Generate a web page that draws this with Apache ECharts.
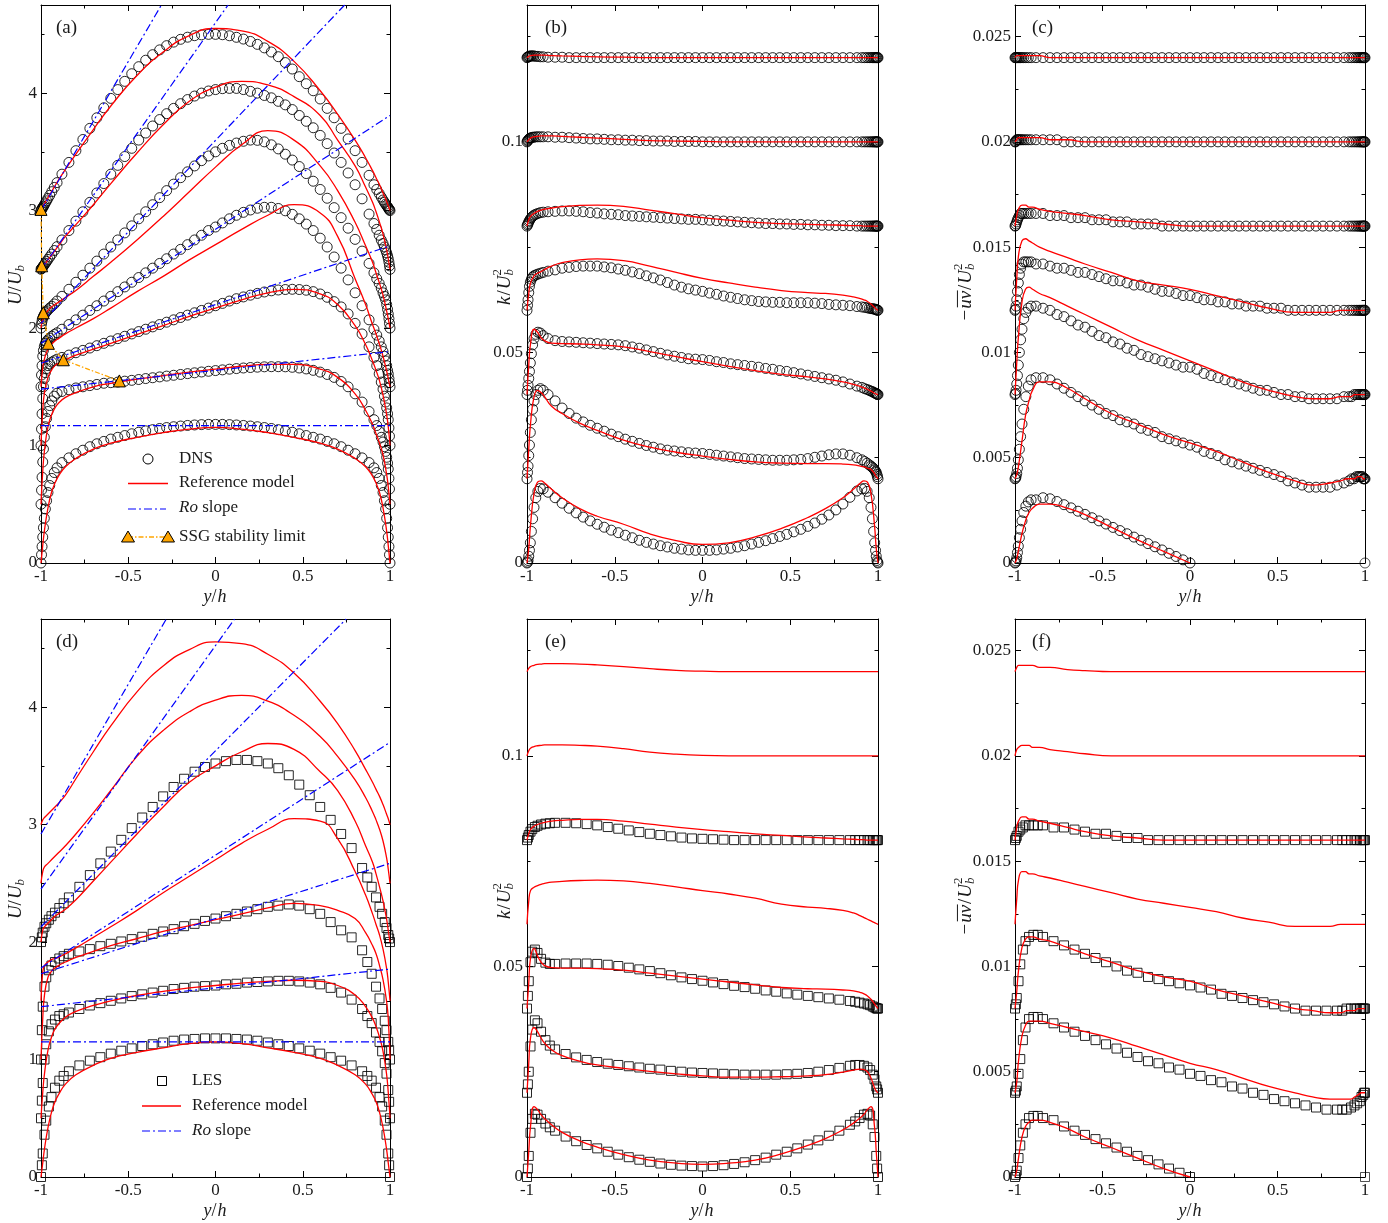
<!DOCTYPE html>
<html><head><meta charset="utf-8">
<script src="https://cdn.jsdelivr.net/npm/echarts@6/dist/echarts.min.js"></script>
<style>html,body{margin:0;padding:0;background:#fff;}#c{width:1388px;height:1223px;}</style>
</head><body><div id="c"></div>
<script>
// ---------- positions (y/h) ----------
// DNS sample positions
const GD = [-1, -0.997, -0.994, -0.99, -0.986, -0.981, -0.975, -0.968, -0.96, -0.95, -0.938, -0.924, -0.908,
 -0.88, -0.84, -0.8, -0.76, -0.72, -0.68, -0.64, -0.6, -0.56, -0.52, -0.48,
 -0.44, -0.4, -0.36, -0.32, -0.28, -0.24, -0.2, -0.16, -0.12, -0.08, -0.04,
 0, 0.04, 0.08, 0.12, 0.16, 0.2, 0.24, 0.28, 0.32, 0.36, 0.4, 0.44,
 0.48, 0.52, 0.56, 0.6, 0.64, 0.68, 0.72, 0.76, 0.8, 0.84, 0.88,
 0.908, 0.924, 0.938, 0.95, 0.96, 0.968, 0.975, 0.981, 0.986, 0.99, 0.994, 0.997, 1];
// LES sample positions
const G = [-1, -0.995, -0.99, -0.98, -0.97, -0.955, -0.94, -0.92, -0.895, -0.87, -0.84, -0.78,
 -0.72, -0.66, -0.6, -0.54, -0.48, -0.42, -0.36, -0.3, -0.24, -0.18, -0.12, -0.06,
 0, 0.06, 0.12, 0.18, 0.24, 0.3, 0.36, 0.42, 0.48, 0.54, 0.6, 0.66, 0.72,
 0.78, 0.84, 0.87, 0.895, 0.92, 0.94, 0.955, 0.97, 0.98, 0.99, 0.995, 1];
// model sample positions
const M = [-1, -0.99, -0.98, -0.96, -0.94, -0.92, -0.9, -0.86,
 -0.8, -0.7, -0.6, -0.45, -0.3, -0.15,
 0, 0.15, 0.3, 0.45, 0.6,
 0.7, 0.8, 0.86, 0.9, 0.92, 0.94, 0.96, 0.98, 0.99, 1];

// ---------- tick values ----------
const uTicks = [0, 1, 2, 3, 4], uMinor = [0.5, 1.5, 2.5, 3.5, 4.5];
const kTicks = [0, 0.05, 0.1], kMinor = [0.025, 0.075, 0.125];
const uvTicks = [0, 0.005, 0.01, 0.015, 0.02, 0.025], uvMinor = [0.0025, 0.0075, 0.0125, 0.0175, 0.0225];

// ---------- (a) U/Ub, DNS ----------
const aDns0 = [0, 0.07, 0.14, 0.22, 0.3, 0.38, 0.46, 0.53, 0.6, 0.66, 0.72, 0.77, 0.81,
 0.855, 0.895, 0.93, 0.96, 0.99, 1.015, 1.035, 1.055, 1.07, 1.085, 1.1,
 1.113, 1.125, 1.135, 1.145, 1.153, 1.16, 1.166, 1.171, 1.175, 1.178, 1.18,
 1.18, 1.18, 1.178, 1.175, 1.171, 1.166, 1.16, 1.153, 1.145, 1.135, 1.125, 1.113,
 1.1, 1.085, 1.07, 1.055, 1.035, 1.015, 0.99, 0.96, 0.93, 0.895, 0.855,
 0.81, 0.77, 0.72, 0.66, 0.6, 0.53, 0.46, 0.38, 0.3, 0.22, 0.14, 0.07, 0];
const aDns1 = [0.5, 0.62, 0.73, 0.86, 0.97, 1.07, 1.16, 1.23, 1.29, 1.34, 1.38, 1.42, 1.445,
 1.46, 1.475, 1.49, 1.5, 1.51, 1.52, 1.53, 1.535, 1.54, 1.548, 1.555,
 1.562, 1.57, 1.577, 1.584, 1.591, 1.598, 1.605, 1.612, 1.619, 1.626, 1.632,
 1.638, 1.644, 1.65, 1.655, 1.66, 1.664, 1.667, 1.67, 1.671, 1.671, 1.67, 1.666,
 1.66, 1.652, 1.64, 1.625, 1.605, 1.58, 1.545, 1.5, 1.44, 1.37, 1.29,
 1.22, 1.17, 1.12, 1.07, 1.03, 0.99, 0.95, 0.9, 0.85, 0.8, 0.72, 0.63, 0.5];
const aDns2 = [1.0, 1.14, 1.27, 1.4, 1.5, 1.57, 1.62, 1.655, 1.68, 1.695, 1.71, 1.722, 1.735,
 1.75, 1.77, 1.79, 1.81, 1.83, 1.85, 1.87, 1.89, 1.91, 1.93, 1.95,
 1.97, 1.99, 2.01, 2.03, 2.05, 2.07, 2.09, 2.11, 2.13, 2.15, 2.17,
 2.19, 2.21, 2.23, 2.25, 2.265, 2.28, 2.295, 2.307, 2.317, 2.324, 2.328, 2.33,
 2.328, 2.322, 2.31, 2.29, 2.262, 2.225, 2.18, 2.12, 2.04, 1.95, 1.84,
 1.75, 1.68, 1.61, 1.54, 1.48, 1.42, 1.37, 1.32, 1.27, 1.22, 1.15, 1.08, 1.0];
const aDns3 = [1.5, 1.6, 1.68, 1.76, 1.81, 1.845, 1.87, 1.885, 1.9, 1.915, 1.93, 1.945, 1.96,
 1.99, 2.03, 2.07, 2.11, 2.15, 2.19, 2.23, 2.27, 2.31, 2.35, 2.39,
 2.43, 2.47, 2.51, 2.55, 2.59, 2.63, 2.67, 2.71, 2.75, 2.79, 2.83,
 2.86, 2.895, 2.93, 2.96, 2.985, 3.005, 3.02, 3.028, 3.028, 3.018, 2.998, 2.968,
 2.93, 2.885, 2.83, 2.765, 2.69, 2.605, 2.51, 2.41, 2.3, 2.19, 2.07,
 1.99, 1.94, 1.89, 1.84, 1.8, 1.76, 1.72, 1.68, 1.64, 1.61, 1.57, 1.535, 1.5];
const aDns4 = [2.0, 2.035, 2.06, 2.085, 2.1, 2.115, 2.13, 2.14, 2.155, 2.17, 2.185, 2.205, 2.23,
 2.27, 2.33, 2.39, 2.45, 2.51, 2.57, 2.63, 2.69, 2.75, 2.81, 2.87,
 2.93, 2.99, 3.05, 3.11, 3.17, 3.225, 3.28, 3.33, 3.38, 3.425, 3.465,
 3.5, 3.53, 3.555, 3.575, 3.59, 3.6, 3.598, 3.585, 3.56, 3.525, 3.48, 3.43,
 3.375, 3.315, 3.25, 3.18, 3.105, 3.025, 2.94, 2.85, 2.755, 2.655, 2.55,
 2.47, 2.42, 2.38, 2.34, 2.3, 2.27, 2.24, 2.2, 2.16, 2.12, 2.08, 2.04, 2.0];
const aDns5 = [2.5, 2.506, 2.512, 2.52, 2.529, 2.54, 2.552, 2.567, 2.584, 2.605, 2.63, 2.66, 2.693,
 2.75, 2.83, 2.91, 2.99, 3.07, 3.15, 3.23, 3.31, 3.385, 3.46, 3.53,
 3.6, 3.66, 3.72, 3.775, 3.825, 3.87, 3.91, 3.945, 3.975, 4.0, 4.018,
 4.03, 4.038, 4.04, 4.04, 4.03, 4.015, 4.0, 3.98, 3.96, 3.93, 3.9, 3.86,
 3.81, 3.76, 3.705, 3.64, 3.57, 3.49, 3.41, 3.32, 3.22, 3.1, 2.97,
 2.89, 2.84, 2.79, 2.75, 2.72, 2.69, 2.665, 2.64, 2.615, 2.59, 2.56, 2.53, 2.5];
const aDns6 = [3.0, 3.008, 3.016, 3.026, 3.036, 3.049, 3.065, 3.083, 3.104, 3.13, 3.161, 3.197, 3.238,
 3.31, 3.41, 3.51, 3.605, 3.7, 3.79, 3.875, 3.955, 4.03, 4.1, 4.165,
 4.225, 4.28, 4.327, 4.368, 4.404, 4.434, 4.458, 4.476, 4.489, 4.496, 4.5,
 4.5, 4.497, 4.488, 4.475, 4.46, 4.44, 4.415, 4.385, 4.35, 4.31, 4.26, 4.205,
 4.14, 4.08, 4.02, 3.95, 3.87, 3.79, 3.7, 3.61, 3.51, 3.41, 3.3,
 3.22, 3.18, 3.145, 3.115, 3.09, 3.07, 3.055, 3.042, 3.032, 3.023, 3.014, 3.007, 3.0];
// (a) reference model
const aMod0 = [0, 0.15, 0.28, 0.47, 0.6, 0.68, 0.74, 0.82, 0.89, 0.97, 1.02, 1.07, 1.11, 1.14,
 1.155, 1.14, 1.11, 1.07, 1.02, 0.97, 0.89, 0.82, 0.74, 0.68, 0.6, 0.47, 0.28, 0.15, 0];
const aMod1 = [0.5, 0.78, 0.96, 1.16, 1.26, 1.32, 1.36, 1.41, 1.45, 1.5, 1.53, 1.565, 1.595, 1.625,
 1.65, 1.675, 1.69, 1.69, 1.65, 1.58, 1.44, 1.3, 1.18, 1.1, 1.02, 0.92, 0.76, 0.65, 0.5];
const aMod2 = [1.0, 1.3, 1.45, 1.58, 1.64, 1.68, 1.7, 1.73, 1.77, 1.82, 1.87, 1.945, 2.02, 2.1,
 2.17, 2.24, 2.3, 2.33, 2.29, 2.2, 2.02, 1.86, 1.72, 1.64, 1.55, 1.43, 1.27, 1.16, 1.0];
const aMod3 = [1.5, 1.66, 1.74, 1.82, 1.86, 1.89, 1.91, 1.95, 2.0, 2.08, 2.17, 2.31, 2.44, 2.58,
 2.71, 2.84, 2.96, 3.05, 2.98, 2.78, 2.42, 2.2, 2.03, 1.95, 1.86, 1.76, 1.64, 1.57, 1.5];
const aMod4 = [2.0, 2.08, 2.11, 2.15, 2.18, 2.2, 2.22, 2.26, 2.32, 2.44, 2.56, 2.75, 2.95, 3.16,
 3.37, 3.56, 3.68, 3.6, 3.38, 3.17, 2.9, 2.7, 2.56, 2.47, 2.38, 2.28, 2.15, 2.08, 2.0];
const aMod5 = [2.5, 2.52, 2.54, 2.58, 2.62, 2.66, 2.7, 2.78, 2.88, 3.05, 3.23, 3.49, 3.73, 3.93,
 4.05, 4.1, 4.07, 3.97, 3.81, 3.6, 3.38, 3.2, 3.07, 2.99, 2.9, 2.8, 2.67, 2.59, 2.5];
const aMod6 = [3.0, 3.03, 3.06, 3.11, 3.16, 3.21, 3.26, 3.35, 3.48, 3.69, 3.89, 4.15, 4.35, 4.49,
 4.55, 4.53, 4.44, 4.27, 4.02, 3.82, 3.6, 3.45, 3.34, 3.28, 3.22, 3.15, 3.08, 3.04, 3.0];
// (a) Ro slope lines [y/h, U/Ub]
const aRo0 = [[-1, 1.17], [1, 1.17]];
const aRo1 = [[-1, 1.48], [1, 1.80]];
const aRo2 = [[-1, 1.70], [1, 2.70]];
const aRo3 = [[-1, 1.87], [1, 3.81]];
const aRo4 = [[-1, 2.04], [0.74, 4.75]];
const aRo5 = [[-1, 2.5], [0.072, 4.75]];
const aRo6 = [[-1, 3.0], [-0.31, 4.75]];
// SSG stability limit
const ssgPos = [-0.551, -0.872, -0.958, -0.987, -0.996, -1.0];
const ssgU = [1.55, 1.73, 1.87, 2.13, 2.53, 3.01];

// ---------- (b) k/Ub^2, DNS ----------
const bDns0 = [0, 0.0002, 0.0006, 0.0016, 0.003, 0.0048, 0.0075, 0.0105, 0.0132, 0.0155, 0.017, 0.0177, 0.0176,
 0.0168, 0.0155, 0.0142, 0.013, 0.0119, 0.0109, 0.01, 0.0092, 0.0085, 0.0078, 0.0072,
 0.0066, 0.006, 0.0054, 0.0049, 0.0045, 0.0041, 0.0038, 0.0035, 0.0033, 0.0031, 0.003,
 0.003, 0.003, 0.0031, 0.0033, 0.0035, 0.0038, 0.0041, 0.0045, 0.0049, 0.0053, 0.0058, 0.0063,
 0.0068, 0.0074, 0.008, 0.0087, 0.0095, 0.0104, 0.0114, 0.0126, 0.014, 0.0156, 0.0171,
 0.0176, 0.0177, 0.017, 0.0155, 0.0132, 0.0105, 0.0075, 0.0048, 0.003, 0.0016, 0.0006, 0.0002, 0];
const bDns1 = [0.02, 0.0215, 0.023, 0.0255, 0.028, 0.031, 0.034, 0.0365, 0.0385, 0.04, 0.041, 0.0414, 0.041,
 0.04, 0.0385, 0.0368, 0.0355, 0.0344, 0.0335, 0.0327, 0.032, 0.0313, 0.0306, 0.03,
 0.0294, 0.0289, 0.0284, 0.0279, 0.0275, 0.0271, 0.0268, 0.0266, 0.0264, 0.0262, 0.0261,
 0.026, 0.0258, 0.0256, 0.0254, 0.0252, 0.025, 0.0248, 0.0247, 0.0246, 0.0245, 0.0244, 0.0244,
 0.0244, 0.0245, 0.0246, 0.0248, 0.0251, 0.0254, 0.0257, 0.0259, 0.0259, 0.0256, 0.025,
 0.0245, 0.0241, 0.0237, 0.0233, 0.023, 0.0227, 0.0224, 0.0221, 0.0218, 0.0215, 0.021, 0.0205, 0.02];
const bDns2 = [0.04, 0.041, 0.0422, 0.0438, 0.0455, 0.0475, 0.0497, 0.0518, 0.0533, 0.0543, 0.0548, 0.0546, 0.054,
 0.0533, 0.0528, 0.0526, 0.0525, 0.0524, 0.0523, 0.0522, 0.0521, 0.052, 0.0519, 0.0518,
 0.0516, 0.0513, 0.051, 0.0506, 0.0502, 0.0498, 0.0494, 0.0491, 0.0488, 0.0485, 0.0484,
 0.0483, 0.0481, 0.0478, 0.0476, 0.0473, 0.0471, 0.0469, 0.0467, 0.0465, 0.0462, 0.046, 0.0457,
 0.0455, 0.0452, 0.0449, 0.0446, 0.0443, 0.044, 0.0437, 0.0434, 0.043, 0.0425, 0.042,
 0.0417, 0.0414, 0.0412, 0.041, 0.0408, 0.0407, 0.0405, 0.0404, 0.0403, 0.0402, 0.0401, 0.04, 0.04];
const bDns3 = [0.06, 0.0612, 0.0625, 0.0642, 0.0657, 0.0667, 0.0674, 0.0679, 0.0682, 0.0684, 0.0686, 0.0688, 0.069,
 0.0693, 0.0696, 0.07, 0.0702, 0.0704, 0.0705, 0.0705, 0.0705, 0.0703, 0.0701, 0.0698,
 0.0695, 0.0691, 0.0687, 0.0682, 0.0677, 0.0672, 0.0666, 0.066, 0.0655, 0.0651, 0.0648,
 0.0645, 0.0641, 0.0638, 0.0634, 0.0631, 0.0628, 0.0625, 0.0623, 0.0621, 0.062, 0.0619, 0.0619,
 0.0618, 0.0618, 0.0618, 0.0618, 0.0617, 0.0616, 0.0614, 0.0613, 0.0612, 0.0611, 0.0609,
 0.0608, 0.0607, 0.0606, 0.0605, 0.0604, 0.0604, 0.0603, 0.0603, 0.0602, 0.0602, 0.0601, 0.06, 0.06];
const bDns4 = [0.08, 0.0803, 0.0806, 0.081, 0.0813, 0.0817, 0.082, 0.0823, 0.0826, 0.0828, 0.083, 0.0832, 0.0833,
 0.0834, 0.0835, 0.0836, 0.0836, 0.0835, 0.0834, 0.0832, 0.0831, 0.0829, 0.0828, 0.0827,
 0.0825, 0.0824, 0.0823, 0.0822, 0.0821, 0.082, 0.0819, 0.0818, 0.0817, 0.0816, 0.0816,
 0.0815, 0.0814, 0.0813, 0.0812, 0.0811, 0.081, 0.0809, 0.0808, 0.0807, 0.0806, 0.0806, 0.0805,
 0.0805, 0.0804, 0.0804, 0.0803, 0.0803, 0.0802, 0.0802, 0.0801, 0.0801, 0.0801, 0.08,
 0.08, 0.08, 0.08, 0.08, 0.08, 0.08, 0.08, 0.08, 0.08, 0.08, 0.08, 0.08, 0.08];
const bDns5 = [0.1, 0.1002, 0.1004, 0.1006, 0.1008, 0.1009, 0.101, 0.1011, 0.1011, 0.1012, 0.1012, 0.1012, 0.1012,
 0.1012, 0.1011, 0.1011, 0.101, 0.1009, 0.1008, 0.1007, 0.1007, 0.1006, 0.1005, 0.1005,
 0.1004, 0.1004, 0.1003, 0.1003, 0.1002, 0.1002, 0.1002, 0.1001, 0.1001, 0.1001, 0.1001,
 0.1, 0.1, 0.1, 0.1, 0.1, 0.1, 0.1, 0.1, 0.1, 0.1, 0.1, 0.1,
 0.1, 0.1, 0.1, 0.1, 0.1, 0.1, 0.1, 0.1, 0.1, 0.1, 0.1,
 0.1, 0.1, 0.1, 0.1, 0.1, 0.1, 0.1, 0.1, 0.1, 0.1, 0.1, 0.1, 0.1];
const bDns6 = [0.12, 0.1201, 0.1202, 0.1203, 0.1203, 0.1204, 0.1204, 0.1204, 0.1204, 0.1203, 0.1203, 0.1202, 0.1202,
 0.1201, 0.1201, 0.1201, 0.12, 0.12, 0.12, 0.12, 0.12, 0.12, 0.12, 0.12,
 0.12, 0.12, 0.12, 0.12, 0.12, 0.12, 0.12, 0.12, 0.12, 0.12, 0.12,
 0.12, 0.12, 0.12, 0.12, 0.12, 0.12, 0.12, 0.12, 0.12, 0.12, 0.12, 0.12,
 0.12, 0.12, 0.12, 0.12, 0.12, 0.12, 0.12, 0.12, 0.12, 0.12, 0.12,
 0.12, 0.12, 0.12, 0.12, 0.12, 0.12, 0.12, 0.12, 0.12, 0.12, 0.12, 0.12, 0.12];
const bMod0 = [0, 0.0035, 0.009, 0.0165, 0.0192, 0.0195, 0.019, 0.0175, 0.0155, 0.0129, 0.0111, 0.0092, 0.0069, 0.0053,
 0.0044, 0.0048, 0.0062, 0.0082, 0.0108, 0.0129, 0.0155, 0.0175, 0.019, 0.0195, 0.0192, 0.0165, 0.009, 0.0035, 0];
const bMod1 = [0.02, 0.027, 0.033, 0.0395, 0.041, 0.0405, 0.0395, 0.0372, 0.0355, 0.0332, 0.0315, 0.0292, 0.0275, 0.0263,
 0.0254, 0.0246, 0.024, 0.0237, 0.0236, 0.0236, 0.0235, 0.0233, 0.023, 0.0228, 0.0225, 0.0222, 0.0212, 0.0205, 0.02];
const bMod2 = [0.04, 0.047, 0.052, 0.0555, 0.0548, 0.0535, 0.0528, 0.0522, 0.0521, 0.052, 0.0518, 0.0513, 0.0502, 0.049,
 0.0478, 0.0467, 0.0457, 0.0448, 0.0442, 0.0437, 0.043, 0.0424, 0.0419, 0.0416, 0.0412, 0.0408, 0.0403, 0.0401, 0.04];
const bMod3 = [0.06, 0.064, 0.0665, 0.0682, 0.0688, 0.0692, 0.0697, 0.0705, 0.0713, 0.072, 0.0722, 0.0718, 0.0705, 0.069,
 0.0676, 0.0665, 0.0655, 0.0647, 0.0642, 0.064, 0.0636, 0.0632, 0.0628, 0.0625, 0.0621, 0.0615, 0.0607, 0.0603, 0.06];
const bMod4 = [0.08, 0.0815, 0.0823, 0.083, 0.0835, 0.0838, 0.084, 0.0843, 0.0846, 0.0849, 0.085, 0.0847, 0.0838, 0.0829,
 0.082, 0.0814, 0.0809, 0.0806, 0.0804, 0.0803, 0.0802, 0.0801, 0.0801, 0.08, 0.08, 0.08, 0.08, 0.08, 0.08];
const bMod5 = [0.1, 0.1005, 0.1009, 0.1012, 0.1013, 0.1014, 0.1014, 0.1014, 0.1013, 0.1011, 0.1009, 0.1006, 0.1003, 0.1002,
 0.1001, 0.1, 0.1, 0.1, 0.1, 0.1, 0.1, 0.1, 0.1, 0.1, 0.1, 0.1, 0.1, 0.1, 0.1];
const bMod6 = [0.12, 0.1203, 0.1205, 0.1206, 0.1206, 0.1206, 0.1206, 0.1205, 0.1204, 0.1203, 0.1202, 0.1201, 0.12, 0.12,
 0.12, 0.12, 0.12, 0.12, 0.12, 0.12, 0.12, 0.12, 0.12, 0.12, 0.12, 0.12, 0.12, 0.12, 0.12];

// ---------- (c) -uv/Ub^2, DNS ----------
const cDns0 = [0, 0.00003, 0.0001, 0.00025, 0.0005, 0.0008, 0.0012, 0.0016, 0.002, 0.0024, 0.0027, 0.0029, 0.003,
 0.003, 0.0031, 0.00305, 0.00292, 0.00277, 0.00262, 0.00246, 0.00231, 0.00215, 0.002, 0.00185,
 0.00169, 0.00154, 0.00139, 0.00123, 0.00108, 0.00092, 0.00077, 0.00062, 0.00046, 0.00031, 0.00015,
 0];
const cDns1 = [0.004, 0.00403, 0.0041, 0.00425, 0.0045, 0.0049, 0.0054, 0.006, 0.0066, 0.0073, 0.0079, 0.0084, 0.0087,
 0.0088, 0.0088, 0.0087, 0.0085, 0.0083, 0.0081, 0.0079, 0.0077, 0.0075, 0.0073, 0.0071,
 0.007, 0.0068, 0.0067, 0.0066, 0.0064, 0.0063, 0.0062, 0.006, 0.0059, 0.0058, 0.0057,
 0.0056, 0.0055, 0.0053, 0.0052, 0.0051, 0.0049, 0.0048, 0.0047, 0.0046, 0.0045, 0.0044, 0.0043,
 0.0042, 0.0041, 0.0039, 0.0038, 0.0037, 0.0036, 0.0036, 0.0036, 0.0036, 0.0037, 0.0038,
 0.0039, 0.004, 0.004, 0.0041, 0.0041, 0.0041, 0.0041, 0.0041, 0.0041, 0.004, 0.004, 0.004, 0.004];
const cDns2 = [0.008, 0.00805, 0.0082, 0.0085, 0.0089, 0.0094, 0.01, 0.0106, 0.0111, 0.0116, 0.0119, 0.0121, 0.0122,
 0.0122, 0.0121, 0.012, 0.0118, 0.0117, 0.0115, 0.0113, 0.0112, 0.011, 0.0108, 0.0107,
 0.0105, 0.0104, 0.0102, 0.0101, 0.0099, 0.0098, 0.0097, 0.0096, 0.0095, 0.0094, 0.0093,
 0.0093, 0.0092, 0.009, 0.0089, 0.0088, 0.0087, 0.0086, 0.0085, 0.0084, 0.0083, 0.0082, 0.0082,
 0.0081, 0.008, 0.008, 0.0079, 0.0079, 0.0078, 0.0078, 0.0078, 0.0078, 0.0078, 0.0079,
 0.0079, 0.0079, 0.008, 0.008, 0.008, 0.008, 0.008, 0.008, 0.008, 0.008, 0.008, 0.008, 0.008];
const cDns3 = [0.012, 0.01205, 0.0122, 0.0125, 0.0129, 0.0133, 0.0137, 0.014, 0.0142, 0.0143, 0.0143, 0.0143, 0.0143,
 0.0142, 0.0142, 0.0141, 0.014, 0.014, 0.0139, 0.0138, 0.0138, 0.0137, 0.0136, 0.0135,
 0.0134, 0.0134, 0.0133, 0.0132, 0.0132, 0.0131, 0.013, 0.0129, 0.0129, 0.0128, 0.0127,
 0.0127, 0.0126, 0.0125, 0.0125, 0.0124, 0.0124, 0.0123, 0.0123, 0.0122, 0.0122, 0.0122, 0.0121,
 0.0121, 0.0121, 0.012, 0.012, 0.012, 0.012, 0.012, 0.012, 0.012, 0.012, 0.012,
 0.012, 0.012, 0.012, 0.012, 0.012, 0.012, 0.012, 0.012, 0.012, 0.012, 0.012, 0.012, 0.012];
const cDns4 = [0.016, 0.01602, 0.0161, 0.0162, 0.0163, 0.0164, 0.0165, 0.0166, 0.0166, 0.0166, 0.0166, 0.0166, 0.0166,
 0.0166, 0.0166, 0.0165, 0.0165, 0.0165, 0.0164, 0.0164, 0.0164, 0.0163, 0.0163, 0.0163,
 0.0162, 0.0162, 0.0162, 0.0161, 0.0161, 0.0161, 0.0161, 0.016, 0.016, 0.016, 0.016,
 0.016, 0.016, 0.016, 0.016, 0.016, 0.016, 0.016, 0.016, 0.016, 0.016, 0.016, 0.016,
 0.016, 0.016, 0.016, 0.016, 0.016, 0.016, 0.016, 0.016, 0.016, 0.016, 0.016,
 0.016, 0.016, 0.016, 0.016, 0.016, 0.016, 0.016, 0.016, 0.016, 0.016, 0.016, 0.016, 0.016];
const cDns5 = [0.02, 0.02, 0.02005, 0.0201, 0.0201, 0.0201, 0.0201, 0.0201, 0.0201, 0.0201, 0.0201, 0.0201, 0.0201,
 0.0201, 0.0201, 0.0201, 0.0201, 0.02, 0.02, 0.02, 0.02, 0.02, 0.02, 0.02,
 0.02, 0.02, 0.02, 0.02, 0.02, 0.02, 0.02, 0.02, 0.02, 0.02, 0.02,
 0.02, 0.02, 0.02, 0.02, 0.02, 0.02, 0.02, 0.02, 0.02, 0.02, 0.02, 0.02,
 0.02, 0.02, 0.02, 0.02, 0.02, 0.02, 0.02, 0.02, 0.02, 0.02, 0.02,
 0.02, 0.02, 0.02, 0.02, 0.02, 0.02, 0.02, 0.02, 0.02, 0.02, 0.02, 0.02, 0.02];
const cDns6 = [0.024, 0.024, 0.024, 0.024, 0.024, 0.024, 0.024, 0.024, 0.024, 0.024, 0.024, 0.024, 0.024,
 0.024, 0.024, 0.024, 0.024, 0.024, 0.024, 0.024, 0.024, 0.024, 0.024, 0.024,
 0.024, 0.024, 0.024, 0.024, 0.024, 0.024, 0.024, 0.024, 0.024, 0.024, 0.024,
 0.024, 0.024, 0.024, 0.024, 0.024, 0.024, 0.024, 0.024, 0.024, 0.024, 0.024, 0.024,
 0.024, 0.024, 0.024, 0.024, 0.024, 0.024, 0.024, 0.024, 0.024, 0.024, 0.024,
 0.024, 0.024, 0.024, 0.024, 0.024, 0.024, 0.024, 0.024, 0.024, 0.024, 0.024, 0.024, 0.024];
const cWall = [[1, 0]];
const cMod0 = [0, 0.0002, 0.0006, 0.0014, 0.002, 0.0024, 0.0026, 0.0028, 0.0028, 0.0026, 0.0023, 0.0017, 0.0011, 0.00055, 0];
const cMod1 = [0.004, 0.0042, 0.0046, 0.0058, 0.007, 0.0077, 0.0082, 0.0086, 0.0086, 0.0083, 0.0078, 0.0071, 0.0066, 0.0061,
 0.0057, 0.0053, 0.0048, 0.0043, 0.0039, 0.0037, 0.0038, 0.0039, 0.004, 0.004, 0.004, 0.0041, 0.0041, 0.004, 0.004];
const cMod2 = [0.008, 0.0095, 0.0108, 0.0124, 0.013, 0.0131, 0.013, 0.0128, 0.0126, 0.0122, 0.0118, 0.0112, 0.0106, 0.0101,
 0.0096, 0.0091, 0.0086, 0.0082, 0.0079, 0.0078, 0.0078, 0.0079, 0.0079, 0.0079, 0.008, 0.008, 0.008, 0.008, 0.008];
const cMod3 = [0.012, 0.0135, 0.0146, 0.0153, 0.0154, 0.0153, 0.0152, 0.015, 0.0148, 0.0145, 0.0142, 0.0138, 0.0134, 0.0132,
 0.013, 0.0127, 0.0124, 0.0121, 0.0119, 0.0119, 0.0119, 0.012, 0.012, 0.012, 0.012, 0.012, 0.012, 0.012, 0.012];
const cMod4 = [0.016, 0.0165, 0.0168, 0.017, 0.017, 0.0169, 0.0169, 0.0168, 0.0167, 0.0166, 0.0165, 0.0163, 0.0162, 0.0161,
 0.016, 0.016, 0.016, 0.016, 0.016, 0.016, 0.016, 0.016, 0.016, 0.016, 0.016, 0.016, 0.016, 0.016, 0.016];
const cMod5 = [0.02, 0.0201, 0.0202, 0.0202, 0.0202, 0.0202, 0.0202, 0.0202, 0.0201, 0.0201, 0.02, 0.02, 0.02, 0.02,
 0.02, 0.02, 0.02, 0.02, 0.02, 0.02, 0.02, 0.02, 0.02, 0.02, 0.02, 0.02, 0.02, 0.02, 0.02];
const cMod6 = [0.024, 0.0241, 0.0241, 0.0241, 0.0241, 0.0241, 0.0241, 0.0241, 0.024, 0.024, 0.024, 0.024, 0.024, 0.024,
 0.024, 0.024, 0.024, 0.024, 0.024, 0.024, 0.024, 0.024, 0.024, 0.024, 0.024, 0.024, 0.024, 0.024, 0.024];

// ---------- (d) U/Ub, LES ----------
const dLes0 = [0, 0.1, 0.2, 0.36, 0.48, 0.6, 0.68, 0.76, 0.82, 0.86, 0.9, 0.95,
 0.99, 1.02, 1.05, 1.075, 1.095, 1.115, 1.13, 1.145, 1.16, 1.17, 1.175, 1.18,
 1.18, 1.18, 1.175, 1.17, 1.16, 1.145, 1.13, 1.115, 1.095, 1.075, 1.05, 1.02, 0.99,
 0.95, 0.9, 0.86, 0.82, 0.76, 0.68, 0.6, 0.48, 0.36, 0.2, 0.1, 0];
const dLes1 = [0.5, 0.65, 0.8, 1.0, 1.13, 1.24, 1.3, 1.34, 1.37, 1.385, 1.4, 1.43,
 1.46, 1.48, 1.5, 1.52, 1.54, 1.555, 1.57, 1.585, 1.6, 1.61, 1.62, 1.625,
 1.63, 1.64, 1.645, 1.655, 1.66, 1.665, 1.67, 1.67, 1.665, 1.655, 1.64, 1.61, 1.57,
 1.51, 1.43, 1.37, 1.31, 1.23, 1.15, 1.07, 0.97, 0.88, 0.74, 0.64, 0.5];
const dLes2 = [1.0, 1.25, 1.45, 1.62, 1.7, 1.76, 1.8, 1.83, 1.86, 1.88, 1.9, 1.92,
 1.94, 1.965, 1.985, 2.005, 2.025, 2.045, 2.07, 2.09, 2.11, 2.135, 2.155, 2.18,
 2.2, 2.22, 2.24, 2.26, 2.28, 2.3, 2.31, 2.32, 2.31, 2.28, 2.24, 2.17, 2.1,
 2.04, 1.93, 1.83, 1.73, 1.62, 1.52, 1.43, 1.33, 1.25, 1.15, 1.08, 1.0];
const dLes3 = [2.0, 2.04, 2.08, 2.13, 2.16, 2.19, 2.22, 2.25, 2.29, 2.33, 2.38, 2.47,
 2.57, 2.67, 2.77, 2.87, 2.97, 3.06, 3.15, 3.24, 3.32, 3.39, 3.45, 3.49,
 3.52, 3.54, 3.55, 3.55, 3.54, 3.52, 3.48, 3.42, 3.34, 3.25, 3.15, 3.04, 2.92,
 2.8, 2.63, 2.55, 2.47, 2.38, 2.3, 2.24, 2.17, 2.12, 2.06, 2.03, 2.0];
const dMod0 = [0, 0.12, 0.24, 0.42, 0.55, 0.64, 0.7, 0.79, 0.87, 0.95, 1.01, 1.06, 1.1, 1.135,
 1.15, 1.135, 1.1, 1.06, 1.01, 0.95, 0.87, 0.79, 0.7, 0.64, 0.55, 0.42, 0.24, 0.12, 0];
const dMod1 = [0.5, 0.72, 0.88, 1.08, 1.19, 1.26, 1.3, 1.36, 1.41, 1.46, 1.5, 1.545, 1.58, 1.61,
 1.63, 1.65, 1.665, 1.675, 1.665, 1.63, 1.55, 1.45, 1.35, 1.28, 1.19, 1.07, 0.88, 0.72, 0.5];
const dMod2 = [1.0, 1.35, 1.55, 1.7, 1.75, 1.78, 1.8, 1.83, 1.87, 1.92, 1.97, 2.03, 2.09, 2.14,
 2.19, 2.24, 2.29, 2.33, 2.31, 2.27, 2.2, 2.08, 1.97, 1.9, 1.8, 1.68, 1.5, 1.35, 1.0];
const dMod3 = [1.5, 1.75, 1.8, 1.83, 1.85, 1.86, 1.87, 1.9, 1.95, 2.04, 2.13, 2.27, 2.42, 2.56,
 2.7, 2.84, 2.96, 3.05, 3.03, 2.88, 2.6, 2.4, 2.24, 2.15, 2.06, 1.94, 1.78, 1.66, 1.5];
const dMod4 = [2.0, 2.1, 2.13, 2.16, 2.19, 2.22, 2.24, 2.28, 2.36, 2.52, 2.68, 2.92, 3.15, 3.36,
 3.5, 3.62, 3.69, 3.64, 3.45, 3.29, 3.03, 2.82, 2.68, 2.58, 2.47, 2.35, 2.2, 2.1, 2.0];
const dMod5 = [2.5, 2.6, 2.64, 2.67, 2.7, 2.73, 2.76, 2.82, 2.92, 3.1, 3.29, 3.58, 3.8, 3.96,
 4.06, 4.1, 4.05, 3.93, 3.75, 3.58, 3.38, 3.23, 3.11, 3.04, 2.96, 2.86, 2.72, 2.62, 2.5];
const dMod6 = [3.0, 3.04, 3.06, 3.09, 3.12, 3.15, 3.18, 3.25, 3.39, 3.62, 3.84, 4.13, 4.35, 4.49,
 4.555, 4.54, 4.45, 4.29, 4.05, 3.86, 3.63, 3.47, 3.36, 3.3, 3.24, 3.17, 3.09, 3.05, 3.0];
const dRo0 = [[-1, 1.15], [1, 1.15]];
const dRo1 = [[-1, 1.45], [1, 1.77]];
const dRo2 = [[-1, 1.73], [1, 2.67]];
const dRo3 = [[-1, 1.78], [1, 3.70]];
const dRo4 = [[-1, 2.13], [0.749, 4.75]];
const dRo5 = [[-1, 2.45], [0.109, 4.75]];
const dRo6 = [[-1, 2.92], [-0.282, 4.75]];

// ---------- (e) k/Ub^2, LES ----------
const eLes0 = [0, 0.002, 0.005, 0.0105, 0.0138, 0.015, 0.0148, 0.0138, 0.0127, 0.0118, 0.011, 0.0096,
 0.0085, 0.0076, 0.0068, 0.006, 0.0053, 0.0047, 0.0041, 0.0036, 0.0032, 0.0029, 0.0027, 0.0026,
 0.0025, 0.0026, 0.0028, 0.0031, 0.0035, 0.004, 0.0046, 0.0053, 0.006, 0.0068, 0.0077, 0.0087, 0.0098,
 0.011, 0.0124, 0.0132, 0.014, 0.0148, 0.015, 0.0146, 0.0125, 0.0095, 0.005, 0.002, 0];
const eLes1 = [0.02, 0.022, 0.025, 0.031, 0.035, 0.0372, 0.0365, 0.0345, 0.0325, 0.0312, 0.0303, 0.0292,
 0.0284, 0.0278, 0.0273, 0.0269, 0.0266, 0.0263, 0.026, 0.0257, 0.0255, 0.0252, 0.025, 0.0248,
 0.0247, 0.0246, 0.0245, 0.0244, 0.0243, 0.0243, 0.0243, 0.0243, 0.0244, 0.0245, 0.0247, 0.025, 0.0254,
 0.0259, 0.0264, 0.0266, 0.0266, 0.0264, 0.026, 0.0254, 0.0243, 0.0232, 0.0215, 0.0208, 0.02];
const eLes2 = [0.04, 0.043, 0.0465, 0.051, 0.0535, 0.054, 0.0532, 0.0518, 0.0509, 0.0506, 0.0506, 0.0507,
 0.0507, 0.0507, 0.0506, 0.0504, 0.0501, 0.0497, 0.0493, 0.0489, 0.0484, 0.0479, 0.0474, 0.047,
 0.0466, 0.0462, 0.0458, 0.0454, 0.0451, 0.0447, 0.0443, 0.044, 0.0436, 0.0433, 0.043, 0.0427, 0.0424,
 0.0421, 0.0418, 0.0416, 0.0414, 0.0412, 0.041, 0.0408, 0.0405, 0.0403, 0.0401, 0.04, 0.04];
const eLes4 = [0.08, 0.0806, 0.0812, 0.082, 0.0826, 0.0831, 0.0834, 0.0837, 0.0839, 0.084, 0.0841, 0.0841,
 0.084, 0.0838, 0.0835, 0.0831, 0.0827, 0.0823, 0.0819, 0.0815, 0.0812, 0.0809, 0.0806, 0.0804,
 0.0803, 0.0802, 0.0801, 0.08, 0.08, 0.08, 0.08, 0.08, 0.08, 0.08, 0.08, 0.08, 0.08,
 0.08, 0.08, 0.08, 0.08, 0.08, 0.08, 0.08, 0.08, 0.08, 0.08, 0.08, 0.08];
const eMod0 = [0, 0.006, 0.012, 0.0167, 0.016, 0.0148, 0.0139, 0.0124, 0.0106, 0.0086, 0.0071, 0.0053, 0.004, 0.0033,
 0.003, 0.0033, 0.004, 0.0055, 0.0075, 0.0091, 0.0112, 0.0128, 0.0141, 0.0149, 0.016, 0.0167, 0.012, 0.006, 0];
const eMod1 = [0.02, 0.027, 0.033, 0.0355, 0.0345, 0.033, 0.0318, 0.0302, 0.0288, 0.0275, 0.0266, 0.0258, 0.0251, 0.0245,
 0.024, 0.0237, 0.0237, 0.0238, 0.024, 0.0243, 0.0249, 0.0254, 0.0256, 0.0255, 0.025, 0.0235, 0.0212, 0.0204, 0.02];
const eMod2 = [0.04, 0.046, 0.052, 0.0543, 0.0525, 0.051, 0.0502, 0.0497, 0.0496, 0.0496, 0.0495, 0.0491, 0.0484, 0.0477,
 0.047, 0.0463, 0.0456, 0.045, 0.0447, 0.0446, 0.0444, 0.0442, 0.0438, 0.0435, 0.043, 0.0422, 0.0411, 0.0405, 0.04];
const eMod3 = [0.06, 0.0655, 0.068, 0.0688, 0.0692, 0.0695, 0.0697, 0.07, 0.0702, 0.0704, 0.0705, 0.0703, 0.0697, 0.0689,
 0.068, 0.0672, 0.0662, 0.0648, 0.0641, 0.0638, 0.0633, 0.0627, 0.062, 0.0616, 0.0612, 0.0608, 0.0604, 0.0602, 0.06];
const eMod4 = [0.08, 0.0815, 0.0825, 0.0833, 0.0837, 0.084, 0.0842, 0.0845, 0.0847, 0.0849, 0.0849, 0.0845, 0.0838, 0.0831,
 0.0825, 0.082, 0.0815, 0.0811, 0.0807, 0.0805, 0.0803, 0.0802, 0.0801, 0.0801, 0.08, 0.08, 0.08, 0.08, 0.08];
const eMod5 = [0.1, 0.1012, 0.1018, 0.1022, 0.1024, 0.1025, 0.1026, 0.1026, 0.1026, 0.1025, 0.1023, 0.1017, 0.1009, 0.1004,
 0.1001, 0.1, 0.1, 0.1, 0.1, 0.1, 0.1, 0.1, 0.1, 0.1, 0.1, 0.1, 0.1, 0.1, 0.1];
const eMod6 = [0.12, 0.1208, 0.1212, 0.1215, 0.1217, 0.1218, 0.1219, 0.1219, 0.1219, 0.1218, 0.1216, 0.1212, 0.1207, 0.1203,
 0.1201, 0.12, 0.12, 0.12, 0.12, 0.12, 0.12, 0.12, 0.12, 0.12, 0.12, 0.12, 0.12, 0.12, 0.12];

// ---------- (f) -uv/Ub^2, LES ----------
const fLes0 = [0, 0.0001, 0.0003, 0.0009, 0.0015, 0.0021, 0.0025, 0.0028, 0.0029, 0.0029, 0.0028, 0.0027,
 0.0024, 0.0022, 0.002, 0.0018, 0.0016, 0.0014, 0.0012, 0.001, 0.0008, 0.0006, 0.0004, 0.0002,
 0];
const fLes1 = [0.004, 0.0041, 0.0043, 0.0049, 0.0056, 0.0065, 0.0071, 0.0075, 0.0076, 0.0076, 0.0075, 0.0073,
 0.0071, 0.0069, 0.0067, 0.0065, 0.0063, 0.0061, 0.0059, 0.0057, 0.0055, 0.0054, 0.0052, 0.0051,
 0.0049, 0.0048, 0.0046, 0.0045, 0.0043, 0.0042, 0.004, 0.0039, 0.0037, 0.0036, 0.0035, 0.0034, 0.0033,
 0.0032, 0.0032, 0.0032, 0.0032, 0.0033, 0.0034, 0.0035, 0.0036, 0.0038, 0.0039, 0.004, 0.004];
const fLes2 = [0.008, 0.0082, 0.0085, 0.0093, 0.0101, 0.0108, 0.0112, 0.0114, 0.0115, 0.0115, 0.0114, 0.0112,
 0.011, 0.0108, 0.0106, 0.0104, 0.0102, 0.01, 0.0098, 0.0097, 0.0095, 0.0094, 0.0093, 0.0092,
 0.0091, 0.009, 0.0089, 0.0087, 0.0086, 0.0085, 0.0084, 0.0083, 0.0082, 0.0081, 0.008, 0.0079, 0.0079,
 0.0079, 0.0079, 0.0079, 0.008, 0.008, 0.008, 0.008, 0.008, 0.008, 0.008, 0.008, 0.008];
const fLes4 = [0.016, 0.0161, 0.0162, 0.0164, 0.0165, 0.0166, 0.0167, 0.0167, 0.0167, 0.0167, 0.0167, 0.0166,
 0.0166, 0.0165, 0.0164, 0.0163, 0.0163, 0.0162, 0.0161, 0.0161, 0.016, 0.016, 0.016, 0.016,
 0.016, 0.016, 0.016, 0.016, 0.016, 0.016, 0.016, 0.016, 0.016, 0.016, 0.016, 0.016, 0.016,
 0.016, 0.016, 0.016, 0.016, 0.016, 0.016, 0.016, 0.016, 0.016, 0.016, 0.016, 0.016];
const fWall = [[1, 0]];
const fMod0 = [0, 0.0003, 0.0009, 0.0019, 0.0024, 0.0026, 0.0027, 0.0027, 0.0026, 0.0023, 0.0019, 0.0014, 0.0009, 0.0004, 0];
const fMod1 = [0.004, 0.0045, 0.0055, 0.0067, 0.0072, 0.0074, 0.0074, 0.0074, 0.0073, 0.0071, 0.0069, 0.0066, 0.0062, 0.0058,
 0.0054, 0.0051, 0.0047, 0.0043, 0.004, 0.0038, 0.0037, 0.0037, 0.0037, 0.0037, 0.0038, 0.0039, 0.004, 0.004, 0.004];
const fMod2 = [0.008, 0.0088, 0.0098, 0.0109, 0.0113, 0.0114, 0.0114, 0.0113, 0.0112, 0.0109, 0.0106, 0.0102, 0.0098, 0.0095,
 0.0093, 0.0089, 0.0086, 0.0083, 0.008, 0.0079, 0.0078, 0.0078, 0.0079, 0.0079, 0.0079, 0.008, 0.008, 0.008, 0.008];
const fMod3 = [0.012, 0.0132, 0.0141, 0.0145, 0.0145, 0.0144, 0.0144, 0.0143, 0.0142, 0.014, 0.0138, 0.0135, 0.0132, 0.013,
 0.0128, 0.0126, 0.0123, 0.0121, 0.0119, 0.0119, 0.0119, 0.012, 0.012, 0.012, 0.012, 0.012, 0.012, 0.012, 0.012];
const fMod4 = [0.016, 0.0166, 0.0169, 0.0171, 0.0171, 0.017, 0.017, 0.0169, 0.0168, 0.0166, 0.0164, 0.0162, 0.0161, 0.016,
 0.016, 0.016, 0.016, 0.016, 0.016, 0.016, 0.016, 0.016, 0.016, 0.016, 0.016, 0.016, 0.016, 0.016, 0.016];
const fMod5 = [0.02, 0.0203, 0.0204, 0.0205, 0.0205, 0.0205, 0.0204, 0.0204, 0.0203, 0.0202, 0.0201, 0.02, 0.02, 0.02,
 0.02, 0.02, 0.02, 0.02, 0.02, 0.02, 0.02, 0.02, 0.02, 0.02, 0.02, 0.02, 0.02, 0.02, 0.02];
const fMod6 = [0.024, 0.0242, 0.0243, 0.0243, 0.0243, 0.0243, 0.0243, 0.0242, 0.0242, 0.0241, 0.02405, 0.024, 0.024, 0.024,
 0.024, 0.024, 0.024, 0.024, 0.024, 0.024, 0.024, 0.024, 0.024, 0.024, 0.024, 0.024, 0.024, 0.024, 0.024];

// ================= build =================
const FONT = "'Liberation Serif','DejaVu Serif',serif";
const TXT = '#1a1a1a';
const GRIDS = [
  {left: 41, top: 5, width: 349, height: 558},
  {left: 527, top: 5, width: 351, height: 558},
  {left: 1015, top: 5, width: 350, height: 558},
  {left: 41, top: 619, width: 349, height: 558},
  {left: 527, top: 619, width: 351, height: 558},
  {left: 1015, top: 619, width: 350, height: 558}
];
const YMAX = [4.75, 0.1325, 0.0265, 4.75, 0.1325, 0.0265];
const YMAJ = [uTicks, kTicks, uvTicks, uTicks, kTicks, uvTicks];
const YMIN = [uMinor, kMinor, uvMinor, uMinor, kMinor, uvMinor];

function pts(xs, ys) { return ys.map((v, i) => [xs[i], v]); }

const xAxis = [], yAxis = [];
const lineBlack = {color: '#000', width: 1};
for (let pass = 0; pass < 2; pass++) {
  GRIDS.forEach((g, i) => {
    xAxis.push({
      gridIndex: i, type: 'value', min: -1, max: 1, interval: 0.5,
      position: pass === 0 ? 'bottom' : 'top',
      axisLine: {show: true, onZero: false, lineStyle: lineBlack},
      axisTick: {show: true, inside: true, length: 6, lineStyle: {color: '#000'}},
      minorTick: {show: true, splitNumber: 2, length: 3.5, lineStyle: {color: '#000'}},
      axisLabel: {show: pass === 0, margin: 5, fontFamily: FONT, fontSize: 17, color: TXT},
      splitLine: {show: false}, minorSplitLine: {show: false}
    });
  });
}
[['left', true], ['left', false], ['right', true], ['right', false]].forEach(([pos, major], k) => {
  GRIDS.forEach((g, i) => {
    const vals = major ? YMAJ[i] : YMIN[i];
    yAxis.push({
      gridIndex: i, type: 'value', min: 0, max: YMAX[i], position: pos,
      axisLine: {show: major, onZero: false, lineStyle: lineBlack},
      axisTick: {show: true, inside: true, length: major ? 6 : 3.5, customValues: vals, lineStyle: {color: '#000'}},
      axisLabel: {show: k === 0, customValues: vals, margin: 4, fontFamily: FONT, fontSize: 17, color: TXT},
      splitLine: {show: false}
    });
  });
});

const series = [];
function marks(gi, xs, ys, sym) {
  series.push({type: 'scatter', xAxisIndex: gi, yAxisIndex: gi, data: pts(xs, ys), symbol: sym,
    symbolSize: sym === 'rect' ? 9 : 10, silent: true, z: 2,
    itemStyle: {color: 'rgba(0,0,0,0)', borderColor: '#000', borderWidth: 0.85, opacity: 1}});
}
function model(gi, xs, ys) {
  series.push({type: 'line', xAxisIndex: gi, yAxisIndex: gi, data: pts(xs, ys), showSymbol: false,
    smooth: 0.5, silent: true, z: 3,
    lineStyle: {color: '#ff0000', width: 1.3}});
}
function roLine(gi, seg) {
  series.push({type: 'line', xAxisIndex: gi, yAxisIndex: gi, data: seg, showSymbol: false, silent: true, z: 4,
    lineStyle: {color: '#0000ff', width: 1.2, type: [8, 3, 2, 3]}});
}

const GDH = GD.slice(0, 36), GH = G.slice(0, 25), MH = M.slice(0, 15);
// (a)
[aDns0, aDns1, aDns2, aDns3, aDns4, aDns5, aDns6].forEach(a => marks(0, GD, a, 'circle'));
[aMod0, aMod1, aMod2, aMod3, aMod4, aMod5, aMod6].forEach(a => model(0, M, a));
[aRo0, aRo1, aRo2, aRo3, aRo4, aRo5, aRo6].forEach(s => roLine(0, s));
series.push({type: 'line', xAxisIndex: 0, yAxisIndex: 0, data: pts(ssgPos, ssgU), symbol: 'triangle', symbolSize: 12,
  showSymbol: true, clip: false, silent: true, z: 6,
  itemStyle: {color: '#ffa500', borderColor: '#000', borderWidth: 1},
  lineStyle: {color: '#ffa500', width: 1.3, type: [5, 2, 1.5, 2]}});
// (b)
[bDns0, bDns1, bDns2, bDns3, bDns4, bDns5, bDns6].forEach(a => marks(1, GD, a, 'circle'));
[bMod0, bMod1, bMod2, bMod3, bMod4, bMod5, bMod6].forEach(a => model(1, M, a));
// (c)
marks(2, GDH, cDns0, 'circle');
[cDns1, cDns2, cDns3, cDns4, cDns5, cDns6].forEach(a => marks(2, GD, a, 'circle'));
series.push({type: 'scatter', xAxisIndex: 2, yAxisIndex: 2, data: cWall, symbol: 'circle', symbolSize: 10, silent: true,
  itemStyle: {color: 'rgba(0,0,0,0)', borderColor: '#000', borderWidth: 0.85}});
model(2, MH, cMod0);
[cMod1, cMod2, cMod3, cMod4, cMod5, cMod6].forEach(a => model(2, M, a));
// (d)
[dLes0, dLes1, dLes2, dLes3].forEach(a => marks(3, G, a, 'rect'));
[dMod0, dMod1, dMod2, dMod3, dMod4, dMod5, dMod6].forEach(a => model(3, M, a));
[dRo0, dRo1, dRo2, dRo3, dRo4, dRo5, dRo6].forEach(s => roLine(3, s));
// (e)
[eLes0, eLes1, eLes2, eLes4].forEach(a => marks(4, G, a, 'rect'));
[eMod0, eMod1, eMod2, eMod3, eMod4, eMod5, eMod6].forEach(a => model(4, M, a));
// (f)
marks(5, GH, fLes0, 'rect');
[fLes1, fLes2, fLes4].forEach(a => marks(5, G, a, 'rect'));
series.push({type: 'scatter', xAxisIndex: 5, yAxisIndex: 5, data: fWall, symbol: 'rect', symbolSize: 9, silent: true,
  itemStyle: {color: 'rgba(0,0,0,0)', borderColor: '#000', borderWidth: 0.85}});
model(5, MH, fMod0);
[fMod1, fMod2, fMod3, fMod4, fMod5, fMod6].forEach(a => model(5, M, a));

// ---------- text helpers ----------
const ctx = document.createElement('canvas').getContext('2d');
function mathText(parts, x, y, opt) {
  opt = opt || {};
  const kids = []; let cur = 0, last = 0;
  parts.forEach(p => {
    const f = (p.it ? 'italic ' : '') + p.s + 'px ' + FONT;
    ctx.font = f;
    const w = ctx.measureText(p.t).width;
    const px = p.stack ? last : cur;
    kids.push({type: 'text', x: px, y: p.dy || 0, style: {text: p.t, font: f, fill: TXT, align: 'left', verticalAlign: 'middle'}});
    if (p.ov) kids.push({type: 'line', shape: {x1: px + 1.5, y1: -p.s * 0.45, x2: px + w + 0.5, y2: -p.s * 0.45}, style: {stroke: TXT, lineWidth: 1}});
    if (!p.stack) { last = cur; cur += w + (p.gap || 0); } else { cur = Math.max(cur, px + w); }
  });
  const off = opt.anchor === 'left' ? 0 : -cur / 2;
  kids.forEach(k => { if (k.type === 'text') k.x += off; else { k.shape.x1 += off; k.shape.x2 += off; } });
  return {type: 'group', x: x, y: y, rotation: opt.rot || 0, children: kids, silent: true};
}
const S = 19, SS = 13;
const nameU = [{t: 'U', it: 1, s: S}, {t: '/', s: S, gap: 1}, {t: 'U', it: 1, s: S}, {t: 'b', it: 1, s: SS, dy: 5}];
const nameK = [{t: 'k', it: 1, s: S, gap: 1}, {t: '/', s: S, gap: 1}, {t: 'U', it: 1, s: S}, {t: 'b', it: 1, s: SS, dy: 5}, {t: '2', s: SS, dy: -7, stack: 1}];
const nameUV = [{t: '\u2212', s: S, gap: 1}, {t: 'uv', it: 1, s: S, ov: 1, gap: 1}, {t: '/', s: S, gap: 1}, {t: 'U', it: 1, s: S}, {t: 'b', it: 1, s: SS, dy: 5}, {t: '2', s: SS, dy: -7, stack: 1}];
const nameY = [{t: 'y', it: 1, s: 18}, {t: '/', s: 18, gap: 1}, {t: 'h', it: 1, s: 18}];

const graphic = [];
[[16, 285, nameU], [505, 287, nameK], [966, 292, nameUV], [16, 899, nameU], [505, 901, nameK], [966, 906, nameUV]].forEach(([x, y, n]) => {
  graphic.push(mathText(n, x, y, {rot: Math.PI / 2}));
});
[[215, 597], [702, 597], [1190, 597], [215, 1211], [702, 1211], [1190, 1211]].forEach(([x, y]) => graphic.push(mathText(nameY, x, y)));
[['(a)', 56, 28], ['(b)', 545, 28], ['(c)', 1032, 28], ['(d)', 56, 642], ['(e)', 545, 642], ['(f)', 1032, 642]].forEach(([t, x, y]) => {
  graphic.push({type: 'text', x: x, y: y, silent: true, style: {text: t, font: '19px ' + FONT, fill: TXT, align: 'left', verticalAlign: 'middle'}});
});
function legText(t, x, y) { return {type: 'text', x: x, y: y, silent: true, style: {text: t, font: '17px ' + FONT, fill: TXT, align: 'left', verticalAlign: 'middle'}}; }
function tri(cx, cy) { return {type: 'polygon', silent: true, z: 10, shape: {points: [[cx, cy - 6], [cx - 6.5, cy + 5], [cx + 6.5, cy + 5]]}, style: {fill: '#ffa500', stroke: '#000', lineWidth: 1}}; }
const roLeg = [{t: 'Ro', it: 1, s: 17}, {t: ' slope', s: 17}];
// legend (a)
graphic.push({type: 'circle', silent: true, shape: {cx: 148, cy: 459, r: 5}, style: {fill: 'none', stroke: '#000', lineWidth: 1}});
graphic.push(legText('DNS', 179, 459));
graphic.push({type: 'line', silent: true, shape: {x1: 128, y1: 483.5, x2: 168, y2: 483.5}, style: {stroke: '#ff0000', lineWidth: 1.3}});
graphic.push(legText('Reference model', 179, 483));
graphic.push({type: 'line', silent: true, shape: {x1: 128, y1: 509, x2: 166, y2: 509}, style: {stroke: '#0000ff', lineWidth: 1.2, lineDash: [8, 3, 2, 3]}});
graphic.push(mathText(roLeg, 179, 508, {anchor: 'left'}));
graphic.push({type: 'line', silent: true, shape: {x1: 128, y1: 537, x2: 168, y2: 537}, style: {stroke: '#ffa500', lineWidth: 1.3, lineDash: [5, 2, 1.5, 2]}});
graphic.push(tri(128, 537)); graphic.push(tri(168, 537));
graphic.push(legText('SSG stability limit', 179, 537));
// legend (d)
graphic.push({type: 'rect', silent: true, shape: {x: 157.5, y: 1076.5, width: 9, height: 9}, style: {fill: 'none', stroke: '#000', lineWidth: 1}});
graphic.push(legText('LES', 192, 1081));
graphic.push({type: 'line', silent: true, shape: {x1: 142, y1: 1106, x2: 181, y2: 1106}, style: {stroke: '#ff0000', lineWidth: 1.3}});
graphic.push(legText('Reference model', 192, 1106));
graphic.push({type: 'line', silent: true, shape: {x1: 142, y1: 1131, x2: 181, y2: 1131}, style: {stroke: '#0000ff', lineWidth: 1.2, lineDash: [8, 3, 2, 3]}});
graphic.push(mathText(roLeg, 192, 1131, {anchor: 'left'}));

// sanity check of array lengths
const checksD = {aDns0, aDns1, aDns2, aDns3, aDns4, aDns5, aDns6, bDns0, bDns1, bDns2, bDns3, bDns4, bDns5, bDns6,
  cDns1, cDns2, cDns3, cDns4, cDns5, cDns6};
const checksL = {dLes0, dLes1, dLes2, dLes3, eLes0, eLes1, eLes2, eLes4, fLes1, fLes2, fLes4};
const checksM = {aMod0, aMod1, aMod2, aMod3, aMod4, aMod5, aMod6, bMod0, bMod1, bMod2, bMod3, bMod4, bMod5, bMod6,
  cMod1, cMod2, cMod3, cMod4, cMod5, cMod6, dMod0, dMod1, dMod2, dMod3, dMod4, dMod5, dMod6,
  eMod0, eMod1, eMod2, eMod3, eMod4, eMod5, eMod6, fMod1, fMod2, fMod3, fMod4, fMod5, fMod6};
const bad = [];
Object.keys(checksD).forEach(k => { if (checksD[k].length !== GD.length) bad.push(k + ':' + checksD[k].length); });
Object.keys(checksL).forEach(k => { if (checksL[k].length !== G.length) bad.push(k + ':' + checksL[k].length); });
Object.keys(checksM).forEach(k => { if (checksM[k].length !== M.length) bad.push(k + ':' + checksM[k].length); });
if (cDns0.length !== 36) bad.push('cDns0:' + cDns0.length); if (fLes0.length !== 25) bad.push('fLes0');
if (cMod0.length !== 15) bad.push('cMod0'); if (fMod0.length !== 15) bad.push('fMod0');
if (bad.length) console.error('LENGTH MISMATCH ' + bad.join(', '));

const chart = echarts.init(document.getElementById('c'), null, {renderer: 'canvas'});
chart.setOption({
  animation: false,
  backgroundColor: '#ffffff',
  grid: GRIDS.map(g => Object.assign({containLabel: false}, g)),
  xAxis: xAxis, yAxis: yAxis, series: series, graphic: graphic
});
</script></body></html>
